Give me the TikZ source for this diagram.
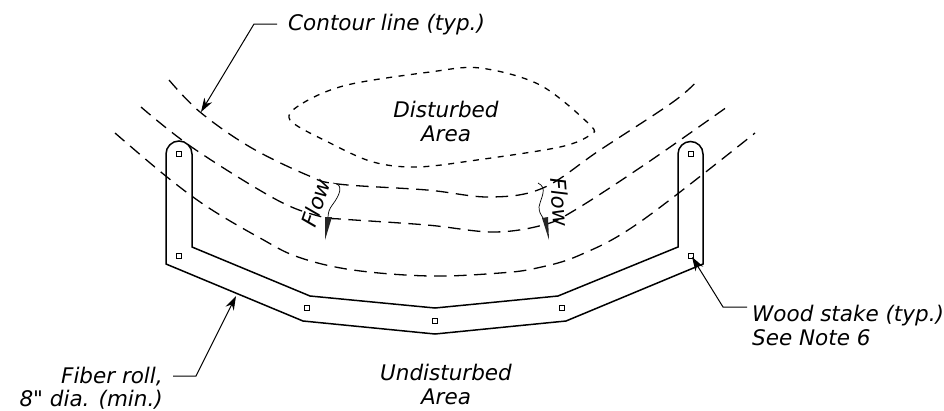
\documentclass[tikz,border=0pt]{standalone}
\usepackage{fontspec}
\newfontfamily\lblfont{DejaVu Sans}
\usetikzlibrary{arrows.meta}
\tikzset{
 lbl/.style={inner sep=0pt,font=\lblfont\fontsize{21.5}{23.5}\selectfont\itshape,align=center},
 contour/.style={line width=1.3pt,dash pattern=on 12.5pt off 7.5pt},
 dotline/.style={line width=1.3pt,dash pattern=on 6pt off 6.5pt},
 roll/.style={line width=1.5pt,line join=miter},
 stake/.style={draw,line width=0.9pt,fill=white,minimum size=5pt,inner sep=0pt,rectangle},
 leader/.style={line width=1pt,-{Stealth[length=14pt,width=9pt]}},
 flowline/.style={line width=0.7pt}
}
\begin{document}
\begin{tikzpicture}[x=1pt,y=-1pt]
\useasboundingbox (0,0) rectangle (944,410);
% contours
\draw[contour] plot[smooth,tension=0.6] coordinates {(169,80)(200,112)(250,147)(307,175)(338,184)(427,190)(490,197)(543,188)(600,150)(673,102)(698,80)};
\draw[contour] plot[smooth,tension=0.6] coordinates {(141,107)(193,148)(277,200)(322,217)(340,219)(427,225)(493,232)(543,225)(575,210)(647,163)(727,107)};
\draw[contour] plot[smooth,tension=0.6] coordinates {(115,133)(167,177)(209,208)(260,238)(298,257)(353,270)(430,276)(500,273)(537,268)(580,255)(640,222)(755,133)};
% disturbed boundary
\draw[dotline] plot[smooth cycle,tension=0.55] coordinates {(290,120)(303,103)(347,85)(430,72)(480,68)(540,85)(590,125)(590,135)(560,147)(477,160)(417,167)(373,162)(330,143)};
% fiber roll
\draw[roll] (192,154) arc[start angle=0,end angle=-180,radius=13] -- (166,264) -- (303,321) -- (435,334) -- (566,321) -- (703,264) -- (703,154) arc[start angle=0,end angle=-180,radius=12.5] -- (678,247) -- (558,296) -- (435,308) -- (310,296) -- (192,247) -- cycle;
% stakes
\foreach \n/\x/\y in {s1/179/154,s2/179/256,s3/307/308,s4/435/321,s5/562/308,s6/691/256,s7/691/154}
  \node[stake] (\n) at (\x,\y) {};
% labels
\node[lbl,anchor=west] (tc) at (288,25) {Contour line (typ.)};
\node[lbl] (td) at (446,121.5) {Disturbed\\Area};
\node[lbl] (tu) at (446,384.5) {Undisturbed\\Area};
\node[lbl,anchor=north west,align=left] (tw) at (752,305) {Wood stake (typ.)\\See Note 6};
\node[lbl,anchor=north east,align=right] (tf) at (163,366.5) {Fiber roll,\\8" dia. (min.)};
\node[lbl,rotate=71] (fl1) at (316,203) {Flow};
\node[lbl,rotate=-86] (fl2) at (560,202) {Flow};
% leaders
\coordinate (c0) at (277,24); \coordinate (c1) at (254,24); \coordinate (c2) at (201,112);
\draw[leader] (c0) -- (c1) -- (c2);
\coordinate (w0) at (747,307); \coordinate (w1) at (723,307); \coordinate (w2) at (692,257);
\draw[leader] (w0) -- (w1) -- (w2);
\coordinate (f0) at (173,376); \coordinate (f1) at (196,376); \coordinate (f2) at (236,296);
\draw[leader] (f0) -- (f1) -- (f2);
% flow arrows
\coordinate (a0) at (333,183); \coordinate (a1) at (328,218); \coordinate (a2) at (325,240);
\draw[flowline] (a0) .. controls (345,184) and (339,196) .. (333,204) .. controls (329,209) and (328,213) .. (a1);
\fill[black!85] (325,217) -- (332,217) -- (a2) -- cycle;
\coordinate (b0) at (538,183); \coordinate (b1) at (543,218); \coordinate (b2) at (549,240);
\draw[flowline] (b0) .. controls (548,188) and (541,197) .. (539,207) .. controls (539,212) and (541,215) .. (b1);
\fill[black!85] (542,218) -- (548,217) -- (b2) -- cycle;
\end{tikzpicture}
\end{document}
